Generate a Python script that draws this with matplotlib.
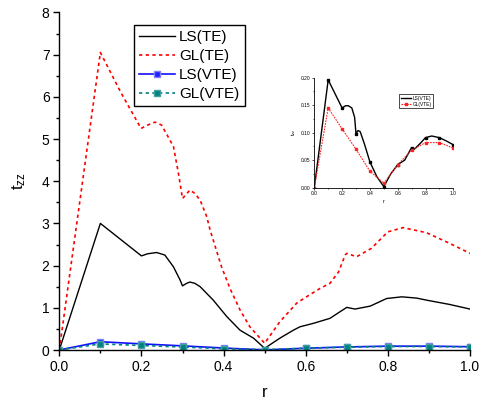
import matplotlib
matplotlib.use("Agg")
import matplotlib.pyplot as plt
from matplotlib.ticker import MultipleLocator

plt.rcParams['font.family'] = ['Liberation Sans', 'DejaVu Sans']
plt.rcParams['mathtext.default'] = 'regular'

# ---- main-plot data (traced) ----
r_ls_te = [0, 0.1, 0.2, 0.215, 0.237, 0.257, 0.278, 0.294, 0.30, 0.31, 0.318, 0.33, 0.343,
           0.375, 0.408, 0.44, 0.473, 0.50, 0.537, 0.57, 0.586, 0.618, 0.659, 0.684, 0.70,
           0.72, 0.757, 0.797, 0.834, 0.87, 0.895, 0.95, 1.0]
ls_te = [0, 3.0, 2.23, 2.28, 2.31, 2.25, 1.97, 1.66, 1.52, 1.58, 1.61, 1.58, 1.50,
         1.18, 0.79, 0.47, 0.28, 0.04, 0.28, 0.47, 0.55, 0.63, 0.75, 0.91, 1.01,
         0.97, 1.04, 1.22, 1.26, 1.23, 1.18, 1.08, 0.97]

r_gl_te = [0, 0.1, 0.15, 0.199, 0.215, 0.233, 0.249, 0.265, 0.278, 0.29, 0.30, 0.318, 0.33,
           0.343, 0.359, 0.367, 0.395, 0.416, 0.44, 0.464, 0.50, 0.537, 0.578, 0.60, 0.635,
           0.659, 0.68, 0.696, 0.70, 0.724, 0.76, 0.80, 0.837, 0.894, 0.95, 1.0]
gl_te = [0, 7.05, 6.1, 5.25, 5.33, 5.40, 5.33, 5.05, 4.82, 4.19, 3.59, 3.79, 3.71,
         3.55, 3.16, 2.85, 1.97, 1.45, 0.95, 0.55, 0.16, 0.67, 1.11, 1.25, 1.46,
         1.58, 1.85, 2.25, 2.29, 2.21, 2.41, 2.80, 2.90, 2.78, 2.53, 2.29]

r_pts = [0, 0.1, 0.2, 0.3, 0.4, 0.5, 0.6, 0.7, 0.8, 0.9, 1.0]
ls_vte = [0, 0.196, 0.145, 0.098, 0.047, 0.002, 0.042, 0.073, 0.091, 0.091, 0.078]
gl_vte = [0, 0.145, 0.107, 0.070, 0.030, 0.008, 0.042, 0.068, 0.082, 0.082, 0.072]

# ---- inset curve for LS(VTE) (traced) ----
r_ls_vte_in = [0, 0.1, 0.2, 0.225, 0.245, 0.27, 0.29, 0.30, 0.315, 0.33, 0.36, 0.40,
               0.45, 0.5, 0.55, 0.6, 0.65, 0.7, 0.72, 0.76, 0.8, 0.845, 0.9, 0.95, 1.0]
ls_vte_in = [0, 0.196, 0.145, 0.149, 0.149, 0.145, 0.128, 0.098, 0.104, 0.102, 0.080, 0.047,
             0.020, 0.002, 0.025, 0.042, 0.050, 0.073, 0.070, 0.080, 0.091, 0.094, 0.091, 0.085, 0.078]

W, H = 479, 401
fig = plt.figure(figsize=(W / 100, H / 100), dpi=100)

def frac(x0, y0, x1, y1):
    return [x0 / W, 1 - y1 / H, (x1 - x0) / W, (y1 - y0) / H]

ax = fig.add_axes(frac(59.3, 12.4, 470, 350))
ax.plot(r_ls_te, ls_te, color='black', lw=1.0, label='LS(TE)')
ax.plot(r_gl_te, gl_te, color='#ff0000', lw=1.2, ls=(0, (2, 2)), label='GL(TE)')
ax.plot(r_pts, ls_vte, color='#1010ff', lw=1.2, marker='s', ms=4,
        mfc='#2020ff', mec='#8080ff', mew=1, label='LS(VTE)')
ax.plot(r_pts, gl_vte, color='#008080', lw=1.2, ls=(0, (2, 2)), marker='s', ms=4,
        mfc='#008080', mec='#40a0a0', mew=1, label='GL(VTE)')

ax.set_xlim(0, 1.0)
ax.set_ylim(0, 8)
ax.xaxis.set_major_locator(MultipleLocator(0.2))
ax.xaxis.set_minor_locator(MultipleLocator(0.1))
ax.yaxis.set_major_locator(MultipleLocator(1))
ax.yaxis.set_minor_locator(MultipleLocator(0.5))
ax.xaxis.set_major_formatter(lambda v, p: f"{v:.1f}")
for s in ['top', 'right']:
    ax.spines[s].set_visible(False)
for s in ['left', 'bottom']:
    ax.spines[s].set_linewidth(1.0)
ax.tick_params(which='major', direction='out', length=4, width=1.0, labelsize=10, pad=3)
ax.tick_params(which='minor', direction='out', length=2.2, width=1.0)
ax.set_xlabel('r', fontsize=12, labelpad=8)
ax.set_ylabel(r'$t_{zz}$', fontsize=12, labelpad=10)

leg = ax.legend(loc='upper left', bbox_to_anchor=(0.182, 0.963), borderaxespad=0,
                fontsize=11, handlelength=2.3, handletextpad=0.3, labelspacing=0.32,
                borderpad=0.35, fancybox=False, framealpha=1, edgecolor='black')
leg.get_frame().set_linewidth(1.0)

# ---- inset ----
axi = fig.add_axes(frac(314.3, 77.7, 453.3, 187.7))
axi.plot(r_ls_vte_in, ls_vte_in, color='black', lw=1.0, label='LS(VTE)')
axi.plot(r_pts, ls_vte, ls='none', marker='s', ms=1.5, color='black')
axi.plot(r_pts, gl_vte, color='#ff2020', lw=0.8, ls=(0, (1.5, 1)), marker='s', ms=1.5,
         label='GL(VTE)')
axi.set_xlim(0, 1.0)
axi.set_ylim(0, 0.2)
axi.xaxis.set_major_locator(MultipleLocator(0.2))
axi.xaxis.set_minor_locator(MultipleLocator(0.1))
axi.yaxis.set_major_locator(MultipleLocator(0.05))
axi.yaxis.set_minor_locator(MultipleLocator(0.025))
axi.xaxis.set_major_formatter(lambda v, p: f"{v:.1f}")
axi.yaxis.set_major_formatter(lambda v, p: f"{v:.2f}")
for s in ['top', 'right']:
    axi.spines[s].set_visible(False)
for s in ['left', 'bottom']:
    axi.spines[s].set_linewidth(0.6)
axi.tick_params(which='major', direction='out', length=1.5, width=0.5, labelsize=3.5, pad=1)
axi.tick_params(which='minor', direction='out', length=0.8, width=0.5)
axi.set_xlabel('r', fontsize=4, labelpad=2)
axi.set_ylabel(r'$t_{zz}$', fontsize=4, labelpad=2)
li = axi.legend(loc='upper left', bbox_to_anchor=(0.61, 0.85), borderaxespad=0,
                fontsize=3.5, handlelength=2.2, handletextpad=0.3, labelspacing=0.2,
                borderpad=0.3, fancybox=False, framealpha=1, edgecolor='black')
li.get_frame().set_linewidth(0.5)

fig.savefig('out.png', dpi=100)
